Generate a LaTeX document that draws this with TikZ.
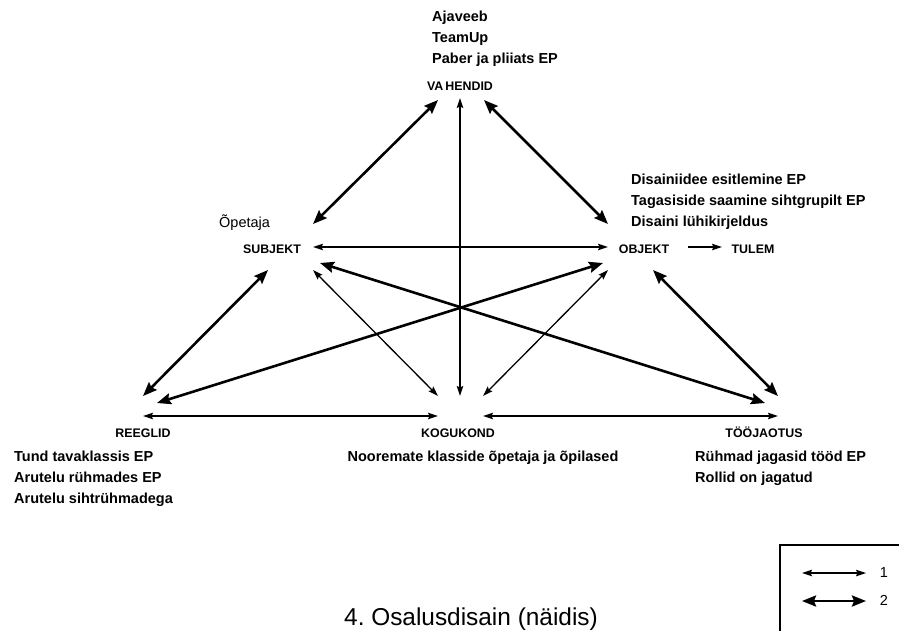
\documentclass[tikz,border=0pt]{standalone}
\usepackage{fontspec}
\setmainfont{Liberation Sans}
\usetikzlibrary{arrows.meta}
\frenchspacing

\tikzset{
  corner/.style={font=\bfseries\fontsize{12.4}{14}\selectfont, inner sep=0pt, anchor=base},
  note/.style={font=\bfseries\fontsize{14.5}{16}\selectfont, inner sep=0pt, anchor=base west},
  plain/.style={font=\fontsize{14.5}{16}\selectfont, inner sep=0pt},
  thinlink/.style={line width=1.3pt, {Stealth[length=10pt,width=6.5pt,inset=1.5pt]}-{Stealth[length=10pt,width=6.5pt,inset=1.5pt]}},
  thicklink/.style={line width=2.6pt, {Stealth[length=14pt,width=11pt,inset=2pt]}-{Stealth[length=14pt,width=11pt,inset=2pt]}},
  onelink/.style={line width=1.3pt, -{Stealth[length=10pt,width=6.5pt,inset=1.5pt]}},
}

\begin{document}
\begin{tikzpicture}[x=1pt,y=-1pt]
\useasboundingbox (0,0) rectangle (899,630);

% activity system corners
\node[corner] (vah)   at (460,90)  {VA\,HENDID};
\node[corner] (subj)  at (272,253) {SUBJEKT};
\node[corner] (obj)   at (644,253) {OBJEKT};
\node[corner] (tulem) at (753,253) {TULEM};
\node[corner] (reeg)  at (143,437) {REEGLID};
\node[corner] (kog)   at (458,437) {KOGUKOND};
\node[corner] (too)   at (764,437) {TÖÖJAOTUS};

% notes
\node[note] (v1) at (432,21) {Ajaveeb};
\node[note] (v2) at (432,42) {TeamUp};
\node[note] (v3) at (432,63) {Paber ja pliiats EP};
\node[plain, anchor=base west] (s1) at (219,227) {Õpetaja};
\node[note] (o1) at (631,184) {Disainiidee esitlemine EP};
\node[note] (o2) at (631,205) {Tagasiside saamine sihtgrupilt EP};
\node[note] (o3) at (631,226) {Disaini lühikirjeldus};
\node[note] (r1) at (14,461) {Tund tavaklassis EP};
\node[note] (r2) at (14,482) {Arutelu rühmades EP};
\node[note] (r3) at (14,503) {Arutelu sihtrühmadega};
\node[note, anchor=base] (k1) at (483,461) {Nooremate klasside õpetaja ja õpilased};
\node[note] (t1) at (695,461) {Rühmad jagasid tööd EP};
\node[note] (t2) at (695,482) {Rollid on jagatud};

% connectors
\draw[thicklink] ([shift={(-22,10)}]vah.base) -- ([shift={(41,-29)}]subj.base);
\draw[thicklink] ([shift={(24,10)}]vah.base) -- ([shift={(-36,-29)}]obj.base);
\draw[thinlink]  ([shift={(0,8)}]vah.base) -- ([shift={(2,-41)}]kog.base);
\draw[thinlink]  ([shift={(41,-6)}]subj.base) -- ([shift={(-36,-6)}]obj.base);
\draw[onelink]   ([shift={(44,-6)}]obj.base) -- ([shift={(-31,-6)}]tulem.base);
\draw[thicklink] ([shift={(-4,17)}]subj.base) -- ([shift={(0,-41)}]reeg.base);
\draw[thinlink]  ([shift={(41,17)}]subj.base) -- ([shift={(-20,-41)}]kog.base);
\draw[thicklink] ([shift={(48,10)}]subj.base) -- ([shift={(1,-34)}]too.base);
\draw[thicklink] ([shift={(-41,10)}]obj.base) -- ([shift={(14,-34)}]reeg.base);
\draw[thinlink]  ([shift={(-36,17)}]obj.base) -- ([shift={(25,-41)}]kog.base);
\draw[thicklink] ([shift={(9,17)}]obj.base) -- ([shift={(14,-41)}]too.base);
\draw[thinlink]  ([shift={(0,-21)}]reeg.base) -- ([shift={(-20,-21)}]kog.base);
\draw[thinlink]  ([shift={(25,-21)}]kog.base) -- ([shift={(14,-21)}]too.base);

% legend
\draw[line width=1.5pt] (900,545) -- (780,545) -- (780,631);
\coordinate (l1a) at (802,573);
\coordinate (l1b) at (866,573);
\coordinate (l2a) at (802,601);
\coordinate (l2b) at (866,601);
\draw[thinlink] (l1a) -- (l1b);
\draw[thicklink] (l2a) -- (l2b);
\node[plain, anchor=base] (lg1) at (884,577) {1};
\node[plain, anchor=base] (lg2) at (884,605) {2};

% title
\node[font=\fontsize{24.4}{28}\selectfont, inner sep=0pt, anchor=base west] (title) at (344,625) {4. Osalusdisain (näidis)};
\end{tikzpicture}
\end{document}
